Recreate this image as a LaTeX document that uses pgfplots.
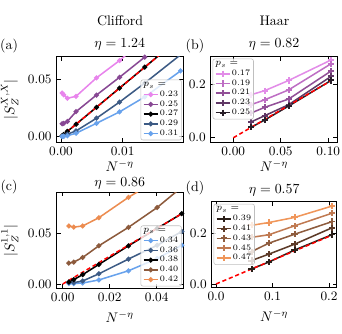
\documentclass[border=0pt]{standalone}
\usepackage{pgfplots}
\pgfplotsset{compat=1.18}
\definecolor{cviolet}{RGB}{232,132,236}
\definecolor{cpurple}{RGB}{136,72,148}
\definecolor{cdblue}{RGB}{60,90,132}
\definecolor{clblue}{RGB}{104,162,236}
\definecolor{hA}{RGB}{226,140,232}
\definecolor{hB}{RGB}{190,110,196}
\definecolor{hC}{RGB}{146,80,152}
\definecolor{hD}{RGB}{96,56,102}
\definecolor{hE}{RGB}{40,30,40}
\definecolor{cbrown}{RGB}{140,90,60}
\definecolor{corange}{RGB}{236,140,80}
\definecolor{dA}{RGB}{42,30,24}
\definecolor{dB}{RGB}{92,58,40}
\definecolor{dC}{RGB}{142,92,62}
\definecolor{dD}{RGB}{192,122,82}
\definecolor{dE}{RGB}{240,150,90}
\pgfplotsset{
  myaxis/.style={
    scale only axis,
    anchor=north west,
    scaled ticks=false,
    tick align=inside,
    axis line style={line width=0.7pt},
    major tick length=3pt,
    tick style={line width=0.6pt, black},
    tick label style={font=\fontsize{9.3}{11}\selectfont},
    label style={font=\fontsize{10}{12}\selectfont},
    xlabel={$N^{-\eta}$},
    legend cell align=left,
    legend style={font=\fontsize{6}{7}\selectfont, draw=black!25, rounded corners=1.5pt,
      fill=white, fill opacity=0.8, text opacity=1, inner xsep=1.5pt, inner ysep=1pt,
      row sep=-0.3pt, nodes={inner sep=0.9pt}},
    legend image code/.code={\draw[mark repeat=2,mark phase=2] plot coordinates {(0cm,0cm) (0.18cm,0cm) (0.36cm,0cm)};},
    every axis plot/.append style={line width=1.1pt},
  },
  cl/.style={mark=*, mark size=1.2pt, mark options={solid}},
  hr/.style={mark=+, mark size=2.2pt, mark options={solid, line width=1.4pt}},
  redline/.style={red, dash pattern=on 3pt off 2pt, line width=1.1pt, mark=none, forget plot},
}
\begin{document}
\begin{tikzpicture}
\path[use as bounding box] (0pt,0pt) rectangle (246.24pt,-240.48pt);

% ---------------- (a) ----------------
\begin{axis}[myaxis, at={(40.68pt,-40.68pt)}, width=91.08pt, height=61.56pt,
  xmin=-0.00073, xmax=0.0198, ymin=-0.0046, ymax=0.0695,
  xtick={0,0.01}, xticklabels={0.00,0.01},
  ytick={0,0.05}, yticklabels={0.00,0.05},
  ylabel={$\overline{|S_Z^{X,X}|}$},
  xlabel style={inner sep=0.5pt, yshift=0.5pt},
  legend style={at={(0.99,0.02)}, anchor=south east}]
\addlegendimage{empty legend}\addlegendentry{\hspace{-0.42cm}\fontsize{7}{8}\selectfont$p_s=$}
\addplot[cviolet, cl] coordinates {(0.00018,0.0378) (0.00044,0.0362) (0.00103,0.0333) (0.00244,0.0350) (0.00576,0.0510) (0.0095,0.0660) (0.0136,0.0850) (0.0194,0.110)};
\addlegendentry{0.23}
\addplot[cpurple, cl] coordinates {(0.00018,0.0112) (0.00044,0.0116) (0.00103,0.0132) (0.00244,0.0217) (0.00576,0.0361) (0.0095,0.0515) (0.0136,0.0690) (0.0194,0.094)};
\addlegendentry{0.25}
\addplot[black, cl] coordinates {(0.00018,0.0008) (0.00044,0.0019) (0.00103,0.0046) (0.00244,0.0108) (0.00576,0.0255) (0.0095,0.0421) (0.0136,0.0603) (0.0194,0.086)};
\addlegendentry{0.27}
\addplot[cdblue, cl] coordinates {(0.00018,0.0004) (0.00044,0.0007) (0.00103,0.0022) (0.00244,0.0050) (0.00576,0.0160) (0.0095,0.0300) (0.0136,0.0465) (0.0194,0.071)};
\addlegendentry{0.29}
\addplot[clblue, cl] coordinates {(0.00018,0.0002) (0.00044,0.0003) (0.00103,0.0008) (0.00244,0.0030) (0.00576,0.0116) (0.0095,0.0215) (0.0136,0.0345) (0.0194,0.057)};
\addlegendentry{0.31}
\addplot[redline] coordinates {(0,0) (0.0198,0.0877)};
\end{axis}

% ---------------- (b) ----------------
\begin{axis}[myaxis, at={(151.70pt,-40.68pt)}, width=91.15pt, height=61.56pt,
  xmin=-0.0238, xmax=0.1095, ymin=-0.0156, ymax=0.302,
  xtick={0,0.05,0.1}, xticklabels={0.00,0.05,0.10},
  ytick={0,0.2}, yticklabels={0.0,0.2},
  xlabel style={inner sep=0.5pt, yshift=0.5pt},
  legend style={at={(0.015,0.975)}, anchor=north west}]
\addlegendimage{empty legend}\addlegendentry{\hspace{-0.42cm}\fontsize{7}{8}\selectfont$p_s=$}
\addplot[hA, hr] coordinates {(0.0187,0.160) (0.0330,0.175) (0.0583,0.213) (0.1029,0.289)};
\addlegendentry{0.17}
\addplot[hB, hr] coordinates {(0.0187,0.123) (0.0330,0.141) (0.0583,0.178) (0.1029,0.275)};
\addlegendentry{0.19}
\addplot[hC, hr] coordinates {(0.0187,0.092) (0.0330,0.113) (0.0583,0.144) (0.1029,0.248)};
\addlegendentry{0.21}
\addplot[hD, hr] coordinates {(0.0187,0.059) (0.0330,0.082) (0.0583,0.123) (0.1029,0.228)};
\addlegendentry{0.23}
\addplot[hE, hr] coordinates {(0.0187,0.039) (0.0330,0.066) (0.0583,0.118) (0.1029,0.213)};
\addlegendentry{0.25}
\addplot[redline] coordinates {(0,0) (0.1029,0.212)};
\end{axis}

% ---------------- (c) ----------------
\begin{axis}[myaxis, at={(40.68pt,-138.46pt)}, width=91.08pt, height=69.12pt,
  xmin=-0.00264, xmax=0.0512, ymin=-0.0042, ymax=0.0899,
  xtick={0,0.02,0.04}, xticklabels={0.00,0.02,0.04},
  ytick={0,0.05}, yticklabels={0.00,0.05},
  ylabel={$\overline{|S_Z^{1,1}|}$},
  legend style={at={(0.99,0.02)}, anchor=south east}]
\addlegendimage{empty legend}\addlegendentry{\hspace{-0.42cm}\fontsize{7}{8}\selectfont$p_s=$}
\addplot[clblue, cl] coordinates {(0.0026,0.0005) (0.0047,0.0005) (0.0085,0.0010) (0.0154,0.0040) (0.0280,0.0130) (0.0402,0.0250) (0.0507,0.0380)};
\addlegendentry{0.34}
\addplot[cdblue, cl] coordinates {(0.0026,0.0015) (0.0047,0.0013) (0.0085,0.0030) (0.0154,0.0100) (0.0280,0.0245) (0.0402,0.0380) (0.0507,0.0515)};
\addlegendentry{0.36}
\addplot[black, cl] coordinates {(0.0026,0.0020) (0.0047,0.0043) (0.0085,0.0092) (0.0154,0.0192) (0.0280,0.0375) (0.0402,0.0545) (0.0507,0.0690)};
\addlegendentry{0.38}
\addplot[cbrown, cl] coordinates {(0.0026,0.0205) (0.0047,0.0215) (0.0085,0.0260) (0.0154,0.0375) (0.0280,0.0556) (0.0402,0.0750) (0.0507,0.0950)};
\addlegendentry{0.40}
\addplot[corange, cl] coordinates {(0.0026,0.0569) (0.0047,0.0558) (0.0085,0.0569) (0.0154,0.0650) (0.0280,0.0850) (0.0402,0.1020) (0.0507,0.1150)};
\addlegendentry{0.42}
\addplot[redline] coordinates {(0,0) (0.0512,0.0696)};
\end{axis}

% ---------------- (d) ----------------
\begin{axis}[myaxis, at={(152.42pt,-145.22pt)}, width=90pt, height=61.63pt,
  xmin=-0.0076, xmax=0.2136, ymin=-0.0129, ymax=0.3227,
  xtick={0,0.1,0.2}, xticklabels={0.0,0.1,0.2},
  ytick={0,0.2}, yticklabels={0.0,0.2},
  legend style={at={(0.015,0.975)}, anchor=north west}]
\addlegendimage{empty legend}\addlegendentry{\hspace{-0.42cm}\fontsize{7}{8}\selectfont$p_s=$}
\addplot[dA, hr] coordinates {(0.0629,0.059) (0.0934,0.086) (0.139,0.133) (0.206,0.194)};
\addlegendentry{0.39}
\addplot[dB, hr] coordinates {(0.0629,0.092) (0.0934,0.117) (0.139,0.156) (0.206,0.221)};
\addlegendentry{0.41}
\addplot[dC, hr] coordinates {(0.0629,0.127) (0.0934,0.160) (0.139,0.195) (0.206,0.245)};
\addlegendentry{0.43}
\addplot[dD, hr] coordinates {(0.0629,0.183) (0.0934,0.193) (0.139,0.228) (0.206,0.278)};
\addlegendentry{0.45}
\addplot[dE, hr] coordinates {(0.0629,0.230) (0.0934,0.241) (0.139,0.261) (0.206,0.306)};
\addlegendentry{0.47}
\addplot[redline] coordinates {(0,0) (0.206,0.192)};
\end{axis}

% titles and panel labels
\node[font=\fontsize{10}{12}\selectfont] at (86.4pt,-15.1pt) {Clifford};
\node[font=\fontsize{10}{12}\selectfont] at (197.6pt,-15.1pt) {Haar};
\node[font=\fontsize{10}{12}\selectfont] at (6.5pt,-33.5pt) {(a)};
\node[font=\fontsize{10}{12}\selectfont] at (140.4pt,-33.5pt) {(b)};
\node[font=\fontsize{10}{12}\selectfont] at (6.5pt,-135pt) {(c)};
\node[font=\fontsize{10}{12}\selectfont] at (140.4pt,-135.4pt) {(d)};
\node[font=\fontsize{10}{12}\selectfont] at (86.2pt,-31.7pt) {$\eta = 1.24$};
\node[font=\fontsize{10}{12}\selectfont] at (197.3pt,-31.7pt) {$\eta = 0.82$};
\node[font=\fontsize{10}{12}\selectfont, inner sep=0.5pt] at (86.2pt,-132pt) {$\eta = 0.86$};
\node[font=\fontsize{10}{12}\selectfont] at (197.4pt,-136.8pt) {$\eta = 0.57$};
\end{tikzpicture}
\end{document}
